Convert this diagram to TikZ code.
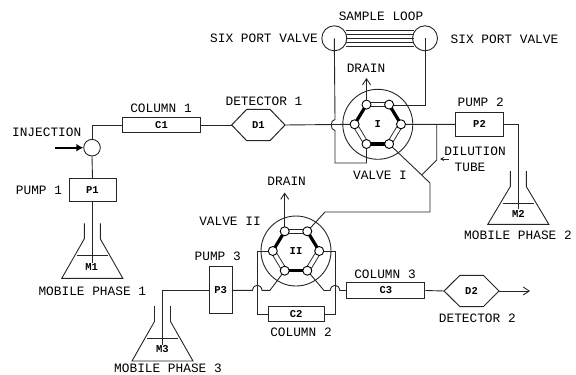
\documentclass[tikz,border=0pt]{standalone}
\usepackage{fontspec}
\newfontfamily\labfont{Liberation Mono}
\usetikzlibrary{arrows.meta}
\tikzset{
  x=1pt,y=-1pt,
  pipe/.style={line width=0.9pt,draw=black!85},
  lab/.style={font=\labfont\fontsize{12.8}{14}\selectfont,inner sep=0pt,text=black},
  tag/.style={font=\labfont\bfseries\fontsize{10.5}{12}\selectfont,inner sep=0pt,text=black},
  unit/.style={draw=black!85,line width=1pt,fill=white,inner sep=0pt,font=\labfont\bfseries\fontsize{10.5}{12}\selectfont},
  port/.style={circle,draw=black,line width=0.9pt,fill=white,minimum size=9pt,inner sep=0pt},
  thickarm/.style={line width=3.2pt,black},
  wash/.style={line width=5.4pt,black!85,postaction={draw=white,line width=3.6pt}},
  flask/.style={line width=0.9pt,draw=black!85},
  open/.style={pipe,-{Straight Barb[length=6pt,width=8pt,line width=0.9pt]}},
}
% #1 name, #2 x, #3 y
\newcommand{\valvebody}[3]{%
  \node[circle,draw=black!85,line width=0.9pt,minimum size=70pt,inner sep=0pt] (#1o) at (#2,#3) {};
  \coordinate (#1L) at (#2-23.2,#3);
  \coordinate (#1R) at (#2+23.2,#3);
  \coordinate (#1TL) at (#2-11.3,#3-19.7);
  \coordinate (#1TR) at (#2+11.3,#3-19.7);
  \coordinate (#1BL) at (#2-11.3,#3+19.7);
  \coordinate (#1BR) at (#2+11.3,#3+19.7);
}
\newcommand{\valvehex}[1]{%
  \draw[thickarm] (#1L)--(#1TL);
  \draw[thickarm] (#1TR)--(#1R);
  \draw[thickarm] (#1BL)--(#1BR);
  \draw[wash] (#1TL)--(#1TR);
  \draw[wash] (#1R)--(#1BR);
  \draw[wash] (#1BL)--(#1L);
  \foreach \p in {L,R,TL,TR,BL,BR}{\node[port] at (#1\p) {};}
}
% #1 name, #2 centre x, #3 top y of neck, #4 base y
\newcommand{\flaskat}[4]{%
  \draw[flask] (#2-8,#3) -- (#2-8,#3+15.5) -- (#2-30.5,#4) -- (#2+30.5,#4) -- (#2+8,#3+15.5) -- (#2+8,#3);
  \draw[flask,line width=0.7pt] (#2-15.5,#3+32) -- (#2+15.5,#3+32);
  \coordinate (#1) at (#2,#3);
}
\begin{document}
\begin{tikzpicture}
\useasboundingbox (0,0) rectangle (576,375);

% units
\node[unit,minimum width=47pt,minimum height=22.7pt] (P1) at (92.5,190.3) {P1};
\node[unit,minimum width=78pt,minimum height=15.5pt] (C1) at (161.5,125) {C1};
\node[unit,minimum width=47.6pt,minimum height=23.4pt] (P2) at (479.5,124.4) {P2};
\node[unit,minimum width=23.4pt,minimum height=47.3pt] (P3) at (220.7,290.3) {P3};
\node[unit,minimum width=55.7pt,minimum height=15.7pt] (C2) at (296.2,314) {C2};
\node[unit,minimum width=78.3pt,minimum height=15.6pt] (C3) at (385.8,290.5) {C3};
\node[circle,draw=black!85,line width=0.9pt,minimum size=16.6pt,inner sep=0pt] (inj) at (92,147.7) {};

% detectors
\coordinate (D1l) at (231.7,125); \coordinate (D1r) at (285,125);
\draw[line width=1pt,black!85] (D1l)--(246.7,109.3)--(270,109.3)--(D1r)--(270,140.7)--(246.7,140.7)--cycle;
\node[tag] (D1) at (258.3,125) {D1};
\coordinate (D2l) at (444,291); \coordinate (D2r) at (499,291);
\draw[line width=1pt,black!85] (D2l)--(460,275.3)--(483.3,275.3)--(D2r)--(483.3,306.7)--(460,306.7)--cycle;
\node[tag] (D2) at (471.5,291) {D2};

% valves: geometry
\valvebody{vI}{377.8}{124.3}
\valvebody{vII}{296}{251}

% sample loop
\node[circle,draw=black!85,line width=0.9pt,minimum size=25pt,inner sep=0pt] (sl) at (334.3,38.3) {};
\node[circle,draw=black!85,line width=0.9pt,minimum size=25pt,inner sep=0pt] (sr) at (425,38.3) {};
\foreach \yy in {30,34,38.3,42.5,46.5}{
  \draw[line width=0.8pt,black!85] (345.5,\yy) -- (413.8,\yy);
}

% flasks
\flaskat{M1n}{92.3}{223.3}{278.3}
\flaskat{M2n}{518.3}{171}{224.3}
\flaskat{M3n}{162.5}{306}{361}
\node[tag,fill=white,inner sep=0.5pt] (M1) at (91.7,267) {M1};
\node[tag,fill=white,inner sep=0.5pt] (M2) at (518.3,213.5) {M2};
\node[tag,fill=white,inner sep=0.5pt] (M3) at (162.3,349) {M3};

% connectors
\draw[pipe] (M1.north -| P1.south) -- (P1.south);
\draw[pipe] (P1.north) -- (inj.south);
\draw[pipe] (inj.north) -- (92,125) -- (C1.west);
\draw[line width=2.4pt,black,-{Latex[length=7pt,width=8pt]}] (55,147.7) -- (inj.west);
\draw[pipe] (C1.east) -- (D1l);
\draw[pipe] (D1r) -- (vIL);
\draw[pipe] (vIR) -- (P2.west);
\draw[pipe] (P2.east) -- (518.3,124.4) -- (M2.north);
% left loop line with hop over main line
\draw[pipe] (sl.center) -- (335,119.5) .. controls (330,119.5) and (330,130.5) .. (335,130.5) -- (335,163) -- (vIBL |- 0,163) -- (vIBL);
\draw[pipe] (sr.center) -- (425,105) -- (vITR |- 0,105) -- (vITR);
% drain I
\draw[open] (vITL) -- (vITL |- 0,78);
% dilution tube
\coordinate (dj) at (421.7,175);
\draw[pipe] (vIR -| 436.7,0) -- (436.7,160) -- (dj);
\draw[pipe] (vIBR) -- (dj) -- (430,183) -- (430,212) -- (325,212) -- (vIITR);
\draw[pipe,-{Stealth[length=4pt,width=4pt]}] (449,159) -- (440,159);
% valve II
\draw[open] (vIITL) -- (vIITL |- 0,192.5);
\draw[pipe] (vIIL) -- (257.3,251) -- (257.3,314) -- (C2.west);
\draw[pipe] (C2.east) -- (335,314) -- (335,251) -- (vIIR);
\draw[pipe] (P3.east) -- (252.5,290.3) .. controls (253.5,283.5) and (261,283.5) .. (262,290.3) -- (270,290.3) -- (vIIBL);
\draw[pipe] (vIIBR) -- (324,290.5) -- (330.2,290.5) .. controls (331.2,283.5) and (338.8,283.5) .. (339.8,290.5) -- (C3.west);
\draw[pipe] (C3.east) -- (D2l);
\draw[open] (D2r) -- (530,291);
\draw[pipe] (P3.west) -- (162.3,290.3) -- (M3.north);

% valve hexagons on top
\valvehex{vI}
\valvehex{vII}
\node[tag] (vIlab) at (377.8,124.3) {I};
\node[tag] (vIIlab) at (296,251) {II};

% labels
\node[lab] (l1) at (381,16.7) {SAMPLE LOOP};
\node[lab] (l2) at (264,38.3) {SIX PORT VALVE};
\node[lab] (l3) at (504.5,39.5) {SIX PORT VALVE};
\node[lab] (l4) at (366,68.5) {DRAIN};
\node[lab] (l5) at (264,101) {DETECTOR 1};
\node[lab] (l6) at (161,108) {COLUMN 1};
\node[lab] (l7) at (46.7,132.3) {INJECTION};
\node[lab] (l8) at (39,190.7) {PUMP 1};
\node[lab] (l9) at (92.3,291.7) {MOBILE PHASE 1};
\node[lab] (l10) at (480.7,102.7) {PUMP 2};
\node[lab] (l11) at (475,151) {DILUTION};
\node[lab] (l12) at (470,167) {TUBE};
\node[lab] (l13) at (380,175) {VALVE I};
\node[lab] (l14) at (518,235.7) {MOBILE PHASE 2};
\node[lab] (l15) at (286.7,181.7) {DRAIN};
\node[lab] (l16) at (230,221.7) {VALVE II};
\node[lab] (l17) at (217.7,256) {PUMP 3};
\node[lab] (l18) at (385,274) {COLUMN 3};
\node[lab] (l19) at (301,332.3) {COLUMN 2};
\node[lab] (l20) at (477.3,318.3) {DETECTOR 2};
\node[lab] (l21) at (168,368.3) {MOBILE PHASE 3};
\end{tikzpicture}
\end{document}
